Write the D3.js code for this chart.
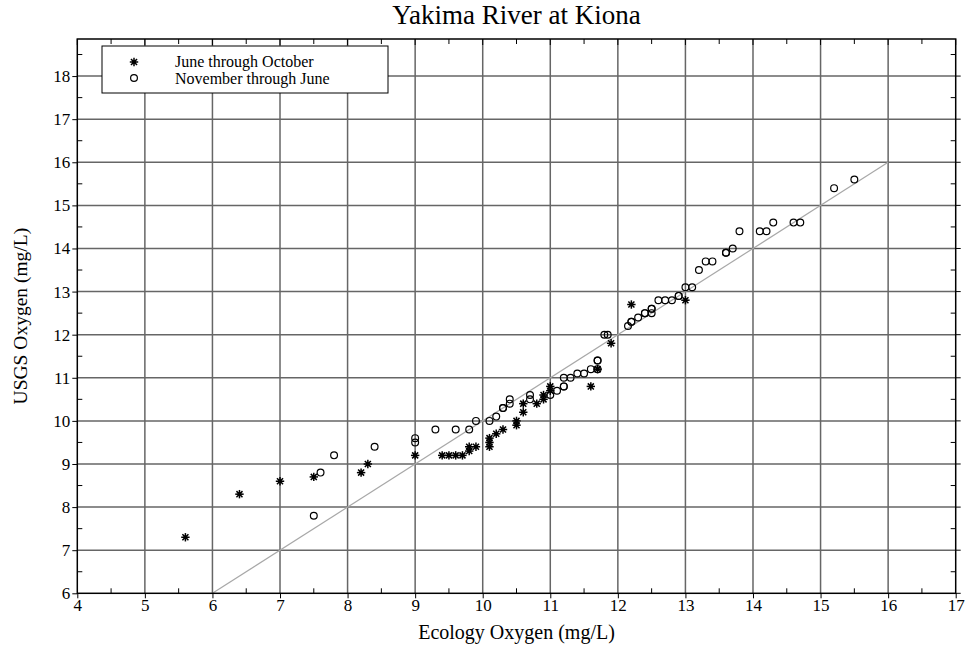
<!DOCTYPE html>
<html><head><meta charset="utf-8">
<script src="https://cdn.jsdelivr.net/npm/d3@7/dist/d3.min.js"></script>
<style>body{margin:0;background:#fff;} svg{display:block;} svg text{font-family:"Liberation Serif","Times New Roman",serif !important;}</style>
</head><body>
<svg id="c" width="965" height="645"></svg>
<script>
const title = "Yakima River at Kiona";
const xLabel = "Ecology Oxygen (mg/L)";
const yLabel = "USGS Oxygen (mg/L)";
const seriesNames = ["June through October", "November through June"];
const xTicks = [4,5,6,7,8,9,10,11,12,13,14,15,16,17];
const yTicks = [6,7,8,9,10,11,12,13,14,15,16,17,18];
const oneToOne = [[6,6],[16,16]];
const summerX = [5.6,6.4,7.0,7.5,8.2,8.3,9.0,9.4,9.5,9.6,9.7,9.8,9.8,9.9,10.1,10.1,10.1,10.2,10.3,10.5,10.5,10.6,10.6,10.8,10.9,10.9,11.0,11.0,11.6,11.7,11.9,12.2,13.0];
const summerY = [7.3,8.3,8.6,8.7,8.8,9.0,9.2,9.2,9.2,9.2,9.2,9.4,9.3,9.4,9.6,9.5,9.4,9.7,9.8,10.0,9.9,10.2,10.4,10.4,10.5,10.6,10.8,10.7,10.8,11.2,11.8,12.7,12.8];
const winterX = [7.5,7.6,7.8,8.4,9.0,9.0,9.3,9.6,9.8,9.9,10.1,10.2,10.3,10.3,10.4,10.4,10.7,10.7,11.0,11.1,11.2,11.2,11.2,11.3,11.4,11.5,11.6,11.7,11.7,11.7,11.8,11.85,12.15,12.2,12.2,12.3,12.4,12.4,12.5,12.5,12.5,12.6,12.7,12.8,12.9,12.9,13.0,13.1,13.2,13.3,13.4,13.6,13.6,13.7,13.8,14.1,14.2,14.3,14.6,14.7,15.2,15.5];
const winterY = [7.8,8.8,9.2,9.4,9.6,9.5,9.8,9.8,9.8,10.0,10.0,10.1,10.3,10.3,10.4,10.5,10.6,10.5,10.6,10.7,10.8,10.8,11.0,11.0,11.1,11.1,11.2,11.2,11.4,11.4,12.0,12.0,12.2,12.3,12.3,12.4,12.5,12.5,12.6,12.6,12.5,12.8,12.8,12.8,12.9,12.9,13.1,13.1,13.5,13.7,13.7,13.9,13.9,14.0,14.4,14.4,14.4,14.6,14.6,14.6,15.4,15.6];

const FONT = "Liberation Serif, Times New Roman, serif";
const svg = d3.select("#c");
const L = 77.3, R = 955.7, T = 39, B = 593.3;
const x = d3.scaleLinear().domain([4,17]).range([L,R]);
const y = d3.scaleLinear().domain([6,18.86]).range([B,T]);
const gridColor = "#666";

// grid
const g = svg.append("g");
g.selectAll(".vg").data(xTicks.filter(v=>v>4 && v<17)).enter().append("line")
 .attr("x1",d=>x(d)).attr("x2",d=>x(d)).attr("y1",T).attr("y2",B)
 .attr("stroke",gridColor).attr("stroke-width",1.5);
g.selectAll(".hg").data(yTicks.filter(v=>v>6)).enter().append("line")
 .attr("y1",d=>y(d)).attr("y2",d=>y(d)).attr("x1",L).attr("x2",R)
 .attr("stroke",gridColor).attr("stroke-width",1.5);

// 1:1 line
svg.append("line").attr("x1",x(oneToOne[0][0])).attr("y1",y(oneToOne[0][1]))
 .attr("x2",x(oneToOne[1][0])).attr("y2",y(oneToOne[1][1]))
 .attr("stroke","#a8a8a8").attr("stroke-width",1.2);

// axes
const minorX = d3.range(4.5,17,1);
const minorY = d3.range(6.5,18.86,1);
const xAxis = d3.axisBottom(x).tickValues(xTicks).tickSize(5).tickSizeOuter(0).tickFormat(d3.format("d"));
const gx = svg.append("g").attr("transform",`translate(0,${B})`).call(xAxis)
  .attr("font-family",FONT).attr("font-size",17);
gx.select(".domain").remove();
gx.selectAll("text").attr("y",5).attr("dy","0.72em").attr("fill","#000");
const yAxis = d3.axisLeft(y).tickValues(yTicks).tickSize(5).tickSizeOuter(0).tickFormat(d3.format("d"));
const gy = svg.append("g").attr("transform",`translate(${L},0)`).call(yAxis)
  .attr("font-family",FONT).attr("font-size",17);
gy.select(".domain").remove();
gy.selectAll("text").attr("x",-7).attr("fill","#000");

// minor inward ticks on all sides
const tk = svg.append("g").attr("stroke","#000").attr("stroke-width",1);
minorX.forEach(v=>{
  tk.append("line").attr("x1",x(v)).attr("x2",x(v)).attr("y1",B).attr("y2",B-5);
  tk.append("line").attr("x1",x(v)).attr("x2",x(v)).attr("y1",T).attr("y2",T+5);
});
xTicks.forEach(v=>{
  tk.append("line").attr("x1",x(v)).attr("x2",x(v)).attr("y1",T).attr("y2",T+6);
});
minorY.forEach(v=>{
  tk.append("line").attr("y1",y(v)).attr("y2",y(v)).attr("x1",L).attr("x2",L+5);
  tk.append("line").attr("y1",y(v)).attr("y2",y(v)).attr("x1",R).attr("x2",R-5);
});
yTicks.forEach(v=>{
  tk.append("line").attr("y1",y(v)).attr("y2",y(v)).attr("x1",R).attr("x2",R+5);
});

// frame
svg.append("rect").attr("x",L).attr("y",T).attr("width",R-L).attr("height",B-T)
 .attr("fill","none").attr("stroke","#000").attr("stroke-width",1.5);

// star marker
function star(sel, cx, cy){
  const s = 4.2;
  const gg = sel.append("g").attr("transform",`translate(${cx},${cy})`);
  [[-s,0,s,0],[0,-s,0,s],[-s*0.72,-s*0.72,s*0.72,s*0.72],[-s*0.72,s*0.72,s*0.72,-s*0.72]].forEach(l=>{
    gg.append("line").attr("x1",l[0]).attr("y1",l[1]).attr("x2",l[2]).attr("y2",l[3])
      .attr("stroke","#000").attr("stroke-width",1.5);
  });
  gg.append("circle").attr("r",2.1).attr("fill","#000");
}

const pts = svg.append("g");
winterX.forEach((v,i)=>{
  pts.append("circle").attr("cx",x(v)).attr("cy",y(winterY[i])).attr("r",3.4)
   .attr("fill","none").attr("stroke","#000").attr("stroke-width",1.2);
});
summerX.forEach((v,i)=> star(pts, x(v), y(summerY[i])));

// legend
const lg = svg.append("g");
lg.append("rect").attr("x",102).attr("y",46).attr("width",286).attr("height",47)
 .attr("fill","#fff").attr("stroke","#000").attr("stroke-width",1);
star(lg, 134, 62);
lg.append("circle").attr("cx",134).attr("cy",78).attr("r",3.4).attr("fill","none").attr("stroke","#000").attr("stroke-width",1.2);
lg.append("text").attr("x",175).attr("y",61.5).attr("dy","0.35em").attr("font-size",16).text(seriesNames[0]);
lg.append("text").attr("x",175).attr("y",78.5).attr("dy","0.35em").attr("font-size",16).text(seriesNames[1]);

// titles
svg.append("text").attr("x",(L+R)/2).attr("y",24).attr("text-anchor","middle").attr("font-size",27).text(title);
svg.append("text").attr("x",(L+R)/2).attr("y",639).attr("text-anchor","middle").attr("font-size",20).text(xLabel);
svg.append("text").attr("transform",`translate(27,${(T+B)/2}) rotate(-90)`).attr("text-anchor","middle").attr("font-size",19.5).text(yLabel);
</script>
</body></html>
